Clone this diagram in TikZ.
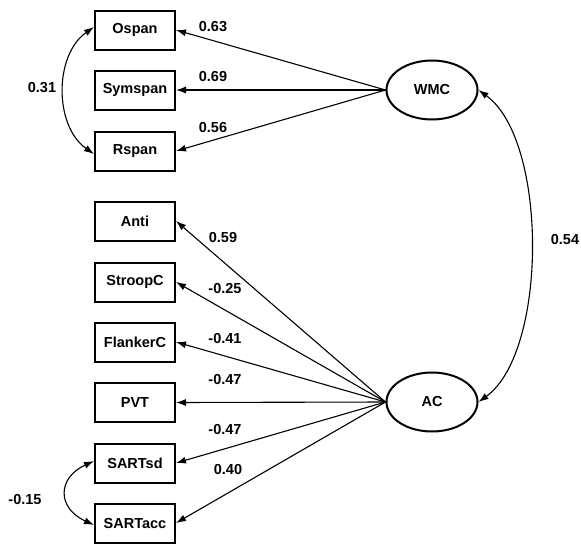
\documentclass[tikz,border=0pt]{standalone}
\usepackage{fontspec}
\setmainfont{Liberation Sans}
\usetikzlibrary{arrows.meta,shapes.geometric}
\begin{document}
\begin{tikzpicture}[x=1pt,y=-1pt,
  font=\fontsize{14.5}{16}\selectfont\bfseries,
  obs/.style={draw,line width=2pt,minimum width=80pt,minimum height=39pt,inner sep=0pt},
  lat/.style={draw,ellipse,line width=2pt,minimum width=91pt,minimum height=59pt,inner sep=0pt},
  path/.style={line width=1.1pt,-{Latex[length=10pt,width=7pt]}},
  cov/.style={line width=1.1pt,{Latex[length=10pt,width=7pt]}-{Latex[length=10pt,width=7pt]}},
  lbl/.style={inner sep=0pt}]
\useasboundingbox (0,0) rectangle (581,544);
\node[obs] (os) at (135,30) {Ospan};
\node[obs] (sy) at (135,90) {Symspan};
\node[obs] (rs) at (135,151) {Rspan};
\node[obs] (an) at (135,221) {Anti};
\node[obs] (st) at (135,282) {StroopC};
\node[obs] (fl) at (135,342) {FlankerC};
\node[obs] (pv) at (135,402.5) {PVT};
\node[obs] (sd) at (135,463) {SARTsd};
\node[obs] (sa) at (135,523) {SARTacc};
\node[lat] (wmc) at (432,90) {WMC};
\node[lat] (ac) at (432,402) {AC};
\foreach \t in {os,sy,rs}{\draw[path] (wmc.west) -- (\t.east);}
\foreach \t in {an,st,fl,pv,sd,sa}{\draw[path] (ac.west) -- (\t.east);}
\draw[cov] ([yshift=3pt]os.west) .. controls (54,55) and (54,126) .. ([yshift=-3pt]rs.west);
\draw[cov] ([yshift=2pt]sd.west) .. controls (57,478) and (57,508) .. ([yshift=-2pt]sa.west);
\draw[cov] (wmc.east) .. controls (548,140) and (548,352) .. (ac.east);
\node[lbl] (l1) at (213,27) {0.63};
\node[lbl] (l2) at (213,77) {0.69};
\node[lbl] (l3) at (213,128) {0.56};
\node[lbl] (l4) at (42,88) {0.31};
\node[lbl] (l5) at (223,238) {0.59};
\node[lbl] (l6) at (225,289) {-0.25};
\node[lbl] (l7) at (225,339) {-0.41};
\node[lbl] (l8) at (225,380) {-0.47};
\node[lbl] (l9) at (225,430) {-0.47};
\node[lbl] (l10) at (228,470) {0.40};
\node[lbl] (l11) at (25,500) {-0.15};
\node[lbl] (l12) at (565,240) {0.54};
\end{tikzpicture}
\end{document}
